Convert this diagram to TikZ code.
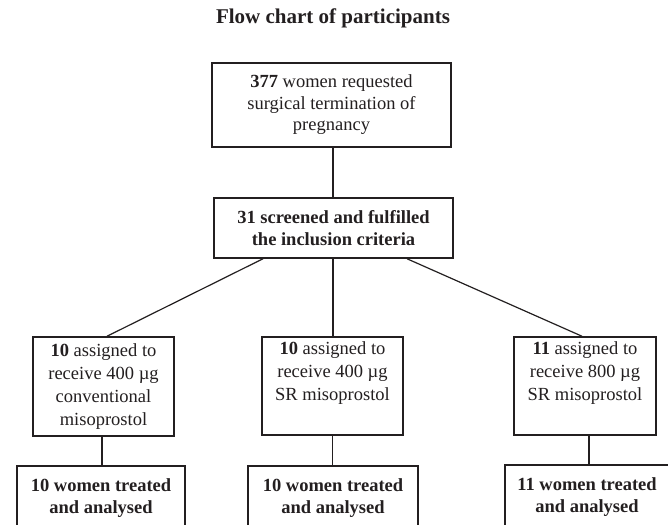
\documentclass[tikz,border=0pt]{standalone}
\usepackage{fontspec}
\setmainfont{Liberation Serif}
\definecolor{ink}{HTML}{231F20}
\begin{document}
\begin{tikzpicture}[x=1pt,y=1pt,
  box/.style={draw=ink,line width=1.5pt,align=center,inner sep=0pt,text=ink,
    font=\fontsize{18.5}{21.5}\selectfont},
  bbox/.style={box,font=\fontsize{18.5}{22}\bfseries\selectfont},
  link/.style={draw=ink,line width=1.2pt}]
\clip (0,0) rectangle (668,-524);
\fill[white] (0,0) rectangle (668,-524);
\node[text=ink,font=\fontsize{21}{25}\bfseries\selectfont] (title) at (333,-18) {Flow chart of participants};
\node[box,minimum width=239pt,minimum height=84pt] (top) at (331.5,-105)
  {\textbf{377} women requested\\surgical termination of\\pregnancy};
\node[bbox,minimum width=239pt,minimum height=60pt] (scr) at (333.5,-228)
  {31 screened and fulfilled\\the inclusion criteria};
\node[box,minimum width=141pt,minimum height=99pt,font=\fontsize{18.5}{23}\selectfont] (a1) at (103.5,-386.5)
  {\textbf{10} assigned to\\receive 400 µg\\conventional\\misoprostol};
\node[box,minimum width=141pt,minimum height=98pt,font=\fontsize{18.5}{23}\selectfont] (a2) at (332.5,-386)
  {\textbf{10} assigned to\\receive 400 µg\\SR misoprostol\\\strut};
\node[box,minimum width=142pt,minimum height=98pt,font=\fontsize{18.5}{23}\selectfont] (a3) at (585,-386)
  {\textbf{11} assigned to\\receive 800 µg\\SR misoprostol\\\strut};
\node[bbox,minimum width=168pt,minimum height=72pt] (t1) at (101,-502)
  {10 women treated\\and analysed\rule[-12pt]{0pt}{0pt}};
\node[bbox,minimum width=170pt,minimum height=72pt] (t2) at (333,-502)
  {10 women treated\\and analysed\rule[-12pt]{0pt}{0pt}};
\node[bbox,minimum width=164pt,minimum height=72pt] (t3) at (587,-501)
  {11 women treated\\and analysed\rule[-12pt]{0pt}{0pt}};
\draw[link] ([xshift=1.5pt]top.south) -- ([xshift=1.5pt]top.south |- scr.north);
\draw[link] ([xshift=-70.5pt]scr.south) -- ([xshift=3.5pt]a1.north);
\draw[link] ([xshift=-0.5pt]scr.south) -- ([xshift=-0.5pt]scr.south |- a2.north);
\draw[link] ([xshift=73.5pt]scr.south) -- ([xshift=-3pt]a3.north);
\draw[link] ([xshift=-1.5pt]a1.south) -- ([xshift=-1.5pt]a1.south |- t1.north);
\draw[link] (a2.south) -- (a2.south |- t2.north);
\draw[link] ([xshift=4pt]a3.south) -- ([xshift=4pt]a3.south |- t3.north);
\end{tikzpicture}
\end{document}
